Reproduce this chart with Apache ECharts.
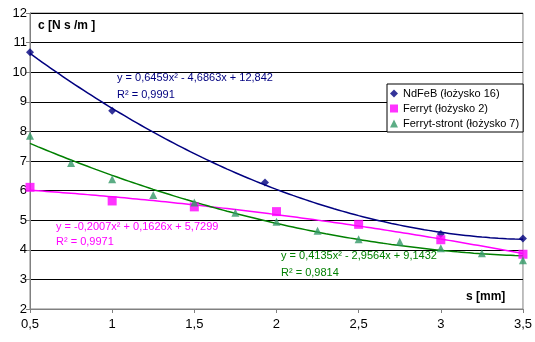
<!DOCTYPE html>
<html>
<head>
<meta charset="utf-8">
<script src="https://cdn.jsdelivr.net/npm/echarts@6/dist/echarts.min.js"></script>
<style>
  html, body { margin: 0; padding: 0; background: #fff; }
  #main { width: 535px; height: 342px; }
</style>
</head>
<body>
<div id="main"></div>
<script>
// values
var ndfebX = [0.5, 1, 1.93, 3, 3.5];
var ndfebY = [10.67, 8.7, 6.27, 4.53, 4.38];

var ferrytX = [0.5, 1, 1.5, 2, 2.5, 3, 3.5];
var ferrytY = [6.11, 5.65, 5.45, 5.29, 4.86, 4.34, 3.85];

var strontX = [0.5, 0.75, 1, 1.25, 1.5, 1.75, 2, 2.25, 2.5, 2.75, 3, 3.25, 3.5];
var strontY = [7.85, 6.93, 6.38, 5.85, 5.6, 5.25, 4.95, 4.64, 4.36, 4.27, 4.05, 3.88, 3.65];

var seriesNames = ['NdFeB (łożysko 16)', 'Ferryt (łożysko 2)', 'Ferryt-stront (łożysko 7)'];
var equations = [
  ['y = 0,6459x² - 4,6863x + 12,842', 'R² = 0,9991'],
  ['y = -0,2007x² + 0,1626x + 5,7299', 'R² = 0,9971'],
  ['y = 0,4135x² - 2,9564x + 9,1432', 'R² = 0,9814']
];

function pairs(xs, ys) {
  return xs.map(function (x, i) { return [x, ys[i]]; });
}

// quadratic least-squares trend (like the spreadsheet trendline)
function trend(xs, ys) {
  var s = [0, 0, 0, 0, 0], t = [0, 0, 0];
  for (var i = 0; i < xs.length; i++) {
    var x = xs[i], p = 1;
    for (var k = 0; k < 5; k++) { s[k] += p; if (k < 3) t[k] += p * ys[i]; p *= x; }
  }
  var m = [[s[0], s[1], s[2], t[0]], [s[1], s[2], s[3], t[1]], [s[2], s[3], s[4], t[2]]];
  for (var c = 0; c < 3; c++) {
    for (var r = c + 1; r < 3; r++) {
      var f = m[r][c] / m[c][c];
      for (var q = c; q < 4; q++) m[r][q] -= f * m[c][q];
    }
  }
  var b = [0, 0, 0];
  for (var r2 = 2; r2 >= 0; r2--) {
    var v = m[r2][3];
    for (var q2 = r2 + 1; q2 < 3; q2++) v -= m[r2][q2] * b[q2];
    b[r2] = v / m[r2][r2];
  }
  var out = [];
  var x0 = xs[0], x1 = xs[xs.length - 1];
  for (var j = 0; j <= 60; j++) {
    var xx = x0 + (x1 - x0) * j / 60;
    out.push([xx, b[0] + b[1] * xx + b[2] * xx * xx]);
  }
  return out;
}

var chart = echarts.init(document.getElementById('main'));
var font = 'Liberation Sans, Arial, sans-serif';

function fmt(v) { return String(v).replace('.', ','); }

var option = {
  animation: false,
  backgroundColor: '#fff',
  grid: { left: 30, right: 8, top: 13, bottom: 33, show: true, borderColor: '#808080', borderWidth: 1 },
  xAxis: {
    type: 'value', min: 0.5, max: 3.5, interval: 0.5,
    axisLine: { lineStyle: { color: '#808080' } },
    axisTick: { show: true, length: 4, lineStyle: { color: '#808080' } },
    axisLabel: { color: '#000', fontFamily: font, fontSize: 13, margin: 9, formatter: fmt },
    splitLine: { show: false }
  },
  yAxis: {
    type: 'value', min: 2, max: 12, interval: 1,
    axisLine: { show: true, lineStyle: { color: '#808080' } },
    axisTick: { show: true, length: 4, lineStyle: { color: '#808080' } },
    axisLabel: { color: '#000', fontFamily: font, fontSize: 13, margin: 3 },
    splitLine: { lineStyle: { color: '#000', width: 1 } }
  },
  legend: {
    left: 387, top: 84, orient: 'vertical',
    backgroundColor: '#fff', borderColor: '#000', borderWidth: 1, borderRadius: 0,
    padding: [4, 4, 3, 3], itemGap: 4, itemWidth: 8, itemHeight: 8,
    textStyle: { fontFamily: font, fontSize: 11, color: '#000' },
    data: [
      { name: seriesNames[0], icon: 'diamond', itemStyle: { color: '#000080' } },
      { name: seriesNames[1], icon: 'rect', itemStyle: { color: '#ff00ff' } },
      { name: seriesNames[2], icon: 'triangle', itemStyle: { color: '#339966' } }
    ]
  },
  graphic: [
    { type: 'text', left: 38, top: 20, style: { text: 'c [N s /m ]', font: 'bold 12px ' + font, fill: '#000' } },
    { type: 'text', left: 466, top: 291, style: { text: 's [mm]', font: 'bold 12px ' + font, fill: '#000' } },
    { type: 'text', left: 117, top: 72, style: { text: equations[0][0], font: '11px ' + font, fill: '#000080' } },
    { type: 'text', left: 117, top: 89, style: { text: equations[0][1], font: '11px ' + font, fill: '#000080' } },
    { type: 'text', left: 56, top: 221, style: { text: equations[1][0], font: '11px ' + font, fill: '#ff00ff' } },
    { type: 'text', left: 56, top: 236, style: { text: equations[1][1], font: '11px ' + font, fill: '#ff00ff' } },
    { type: 'text', left: 281, top: 250, style: { text: equations[2][0], font: '11px ' + font, fill: '#008000' } },
    { type: 'text', left: 281, top: 267, style: { text: equations[2][1], font: '11px ' + font, fill: '#008000' } }
  ],
  series: [
    { name: seriesNames[0] + ' trend', type: 'line', data: trend(ndfebX, ndfebY), showSymbol: false, smooth: true,
      lineStyle: { color: '#000080', width: 1.5 }, z: 2, silent: true },
    { name: seriesNames[1] + ' trend', type: 'line', data: trend(ferrytX, ferrytY), showSymbol: false, smooth: true,
      lineStyle: { color: '#ff00ff', width: 1.5 }, z: 2, silent: true },
    { name: seriesNames[2] + ' trend', type: 'line', data: trend(strontX, strontY), showSymbol: false, smooth: true,
      lineStyle: { color: '#008000', width: 1.5 }, z: 2, silent: true },
    { name: seriesNames[0], type: 'scatter', data: pairs(ndfebX, ndfebY), symbol: 'diamond', symbolSize: 8,
      itemStyle: { color: '#000080' }, z: 3 },
    { name: seriesNames[1], type: 'scatter', data: pairs(ferrytX, ferrytY), symbol: 'rect', symbolSize: 9,
      itemStyle: { color: '#ff00ff' }, z: 3 },
    { name: seriesNames[2], type: 'scatter', data: pairs(strontX, strontY), symbol: 'triangle', symbolSize: 8,
      itemStyle: { color: '#339966' }, z: 3 }
  ]
};

chart.setOption(option);
</script>
</body>
</html>
